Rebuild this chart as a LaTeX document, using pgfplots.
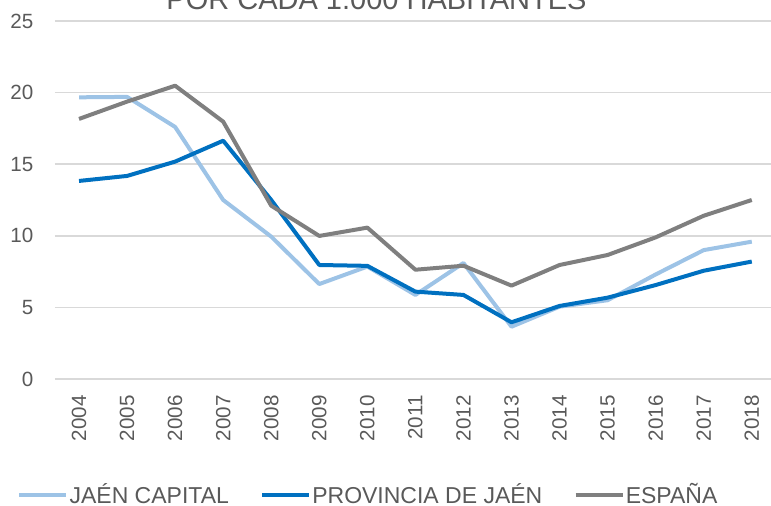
\documentclass[border=0pt]{standalone}
\usepackage{fontspec}
\setmainfont{Liberation Sans}
\usepackage{pgfplots}
\pgfplotsset{compat=1.18}
\definecolor{lightb}{HTML}{9DC3E6}
\definecolor{darkb}{HTML}{0070C0}
\definecolor{grayl}{HTML}{7F7F7F}
\definecolor{txt}{HTML}{595959}
\definecolor{gridc}{HTML}{D9D9D9}

\pgfplotstableread{
x capital provincia espana
0 19.67 13.83 18.16
1 19.70 14.18 19.37
2 17.60 15.18 20.48
3 12.50 16.64 17.97
4 9.94 12.50 12.10
5 6.63 7.96 9.99
6 7.85 7.90 10.57
7 5.87 6.10 7.63
8 8.10 5.87 7.91
9 3.65 3.96 6.52
10 5.05 5.10 7.96
11 5.50 5.68 8.66
12 7.30 6.56 9.89
13 9.00 7.56 11.40
14 9.59 8.20 12.50
}\datatable

\begin{document}
\begin{tikzpicture}
\path[use as bounding box] (0,0) rectangle (385.5pt,253pt);
\node[anchor=base, font=\fontsize{14.5}{16}\selectfont, text=txt] at (188.25pt,248.35pt) {POR CADA 1.000 HABITANTES};
\begin{axis}[
  at={(27.5pt,63.5pt)}, anchor=south west,
  scale only axis, width=358pt, height=179pt,
  xmin=-0.5, xmax=14.4, ymin=0, ymax=25,
  ytick={0,5,10,15,20,25},
  xtick={0,...,14},
  xticklabels={2004,2005,2006,2007,2008,2009,2010,2011,2012,2013,2014,2015,2016,2017,2018},
  axis line style={draw=none},
  tick style={draw=none},
  ymajorgrids,
  grid style={draw=gridc, line width=0.75pt},
  /pgf/number format/assume math mode=true,
  tick label style={font=\fontsize{10.3}{12}\selectfont, text=txt},
  yticklabel shift=7.3pt,
  xticklabel shift=4.6pt,
  xticklabel style={rotate=90, anchor=east},
  clip=false,
  legend columns=3,
  legend style={at={(axis description cs:-0.0531,-0.324)}, anchor=west,
    draw=none, fill=none, inner sep=0pt,
    font=\fontsize{11.5}{13}\selectfont, text=txt,
    nodes={inner sep=0.6pt},
    /tikz/every even column/.append style={column sep=15pt}},
  legend image code/.code={\draw[#1, line width=2pt] (0pt,0pt) -- (23.5pt,0pt);},
]
\addplot[lightb, line width=2pt, line join=round] table[x=x, y=capital] {\datatable};
\addlegendentry{JAÉN CAPITAL}
\addplot[darkb, line width=2pt, line join=round] table[x=x, y=provincia] {\datatable};
\addlegendentry{PROVINCIA DE JAÉN}
\addplot[grayl, line width=2pt, line join=round] table[x=x, y=espana] {\datatable};
\addlegendentry{ESPAÑA}
\end{axis}
\end{tikzpicture}
\end{document}
